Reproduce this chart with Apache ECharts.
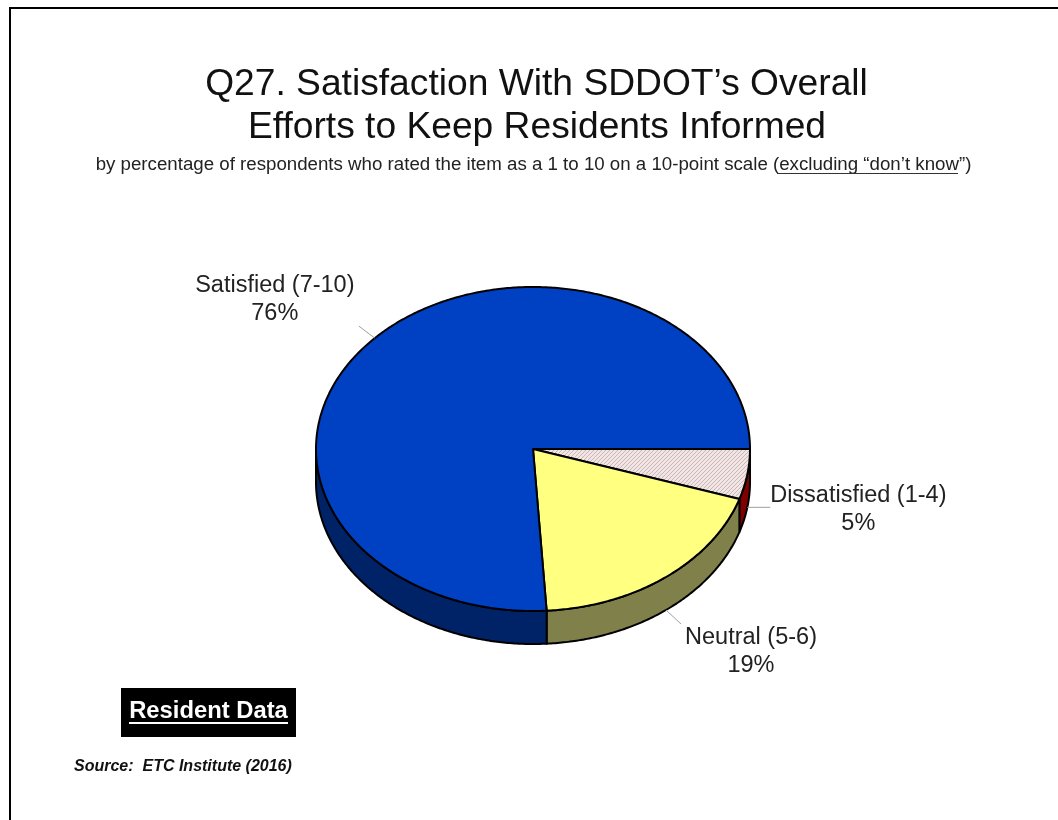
<!DOCTYPE html>
<html>
<head>
<meta charset="utf-8">
<style>html,body{margin:0;padding:0;background:#fff}#c{width:1058px;height:820px}</style>
<script src="https://cdn.jsdelivr.net/npm/echarts@6/dist/echarts.min.js"></script>
</head>
<body>
<div id="c"></div>
<script>
var categories = ['Dissatisfied (1-4)', 'Neutral (5-6)', 'Satisfied (7-10)'];
var values = [5, 19, 76];
var tickLabels = ['5%', '19%', '76%'];

var hatch = document.createElement('canvas');
hatch.width = 4; hatch.height = 4;
(function () {
  var g = hatch.getContext('2d');
  g.fillStyle = '#f1e6e6'; g.fillRect(0, 0, 4, 4);
  g.strokeStyle = '#cfb4b4'; g.lineWidth = 1;
  g.beginPath();
  g.moveTo(-1, 5); g.lineTo(5, -1);
  g.moveTo(-3, 3); g.lineTo(3, -3);
  g.moveTo(1, 7); g.lineTo(7, 1);
  g.stroke();
})();

var topFill = [{ image: hatch, repeat: 'repeat' }, '#ffff80', '#0041c4'];
var sideFill = ['#800000', '#80804a', '#002266'];
var labelOffset = [[23, 0, 111, -26], [15, 14, 85, 14], [-16, -12, -100, -67]];
var depth = 33;
var total = values.reduce(function (a, b) { return a + b; }, 0);
var starts = values.map(function (v, i) {
  return values.slice(0, i).reduce(function (a, b) { return a + b; }, 0);
});
var sliceData = values.map(function (v, i) { return [starts[i], v, i]; });

function angleOf(share) { return share / total * Math.PI * 2; }
function arcPoints(api, a0, a1, dy) {
  var pts = [], steps = Math.max(2, Math.ceil((a1 - a0) / 0.01));
  for (var k = 0; k <= steps; k++) {
    var a = a0 + (a1 - a0) * k / steps;
    var p = api.coord([Math.cos(a), -Math.sin(a)]);
    pts.push([p[0], p[1] + dy]);
  }
  return pts;
}
var edge = { stroke: '#000', lineWidth: 2, lineJoin: 'round' };

function sideItem(params, api) {
  var a0 = angleOf(api.value(0)), a1 = angleOf(api.value(0) + api.value(1));
  var e = Math.min(a1, Math.PI);
  if (a0 >= e) return { type: 'group', children: [] };
  var front = arcPoints(api, a0, e, 0);
  var back = arcPoints(api, a0, e, depth).reverse();
  return {
    type: 'polygon',
    shape: { points: front.concat(back) },
    style: Object.assign({ fill: sideFill[api.value(2)] }, edge)
  };
}
function topItem(params, api) {
  var a0 = angleOf(api.value(0)), a1 = angleOf(api.value(0) + api.value(1));
  var c = api.coord([0, 0]);
  return {
    type: 'polygon',
    shape: { points: [c].concat(arcPoints(api, a0, a1, 0)) },
    style: Object.assign({ fill: topFill[api.value(2)] }, edge)
  };
}
function labelItem(params, api) {
  var i = api.value(2);
  var mid = angleOf(api.value(0) + api.value(1) / 2);
  var p = api.coord([Math.cos(mid), -Math.sin(mid)]);
  var dy = Math.sin(mid) > 0 ? depth : 0;
  var x0 = p[0], y0 = p[1] + dy, o = labelOffset[i];
  return {
    type: 'group',
    children: [
      { type: 'line', shape: { x1: x0, y1: y0, x2: x0 + o[0], y2: y0 + o[1] },
        style: { stroke: '#a0a0a0', lineWidth: 1 } },
      { type: 'text', x: x0 + o[2], y: y0 + o[3],
        style: { text: categories[i] + '\n' + tickLabels[i], fill: '#222',
          font: '23.5px "Liberation Sans", Arial, sans-serif', lineHeight: 28,
          align: 'center', verticalAlign: 'top' } }
    ]
  };
}

var F = '"Liberation Sans", Arial, sans-serif';
var chart = echarts.init(document.getElementById('c'), null, { renderer: 'canvas' });
chart.setOption({
  animation: false,
  backgroundColor: '#fff',
  grid: { left: 316, right: 308, top: 287, height: 324 },
  xAxis: { type: 'value', min: -1, max: 1, show: false },
  yAxis: { type: 'value', min: -1, max: 1, show: false },
  graphic: [
    { type: 'line', shape: { x1: 9, y1: 8, x2: 1058, y2: 8 }, silent: true, style: { stroke: '#000', lineWidth: 2 } },
    { type: 'line', shape: { x1: 10, y1: 7, x2: 10, y2: 820 }, silent: true, style: { stroke: '#000', lineWidth: 2 } },
    { type: 'text', x: 536.5, y: 85, style: { text: 'Q27. Satisfaction With SDDOT\u2019s Overall', font: '37.2px ' + F, fill: '#111', align: 'center', verticalAlign: 'middle' } },
    { type: 'text', x: 537, y: 128, style: { text: 'Efforts to Keep Residents Informed', font: '37.2px ' + F, fill: '#111', align: 'center', verticalAlign: 'middle' } },
    { type: 'text', x: 533.5, y: 165, style: { text: 'by percentage of respondents who rated the item as a 1 to 10 on a 10-point scale (excluding \u201cdon\u2019t know\u201d)', font: '18.7px ' + F, fill: '#222', align: 'center', verticalAlign: 'middle' } },
    { type: 'line', shape: { x1: 777, y1: 173.5, x2: 958, y2: 173.5 }, style: { stroke: '#333', lineWidth: 1 } },
    { type: 'rect', shape: { x: 121, y: 688, width: 175, height: 49 }, style: { fill: '#000' } },
    { type: 'text', x: 208.5, y: 711, style: { text: 'Resident Data', font: 'bold 23.8px ' + F, fill: '#fff', align: 'center', verticalAlign: 'middle' } },
    { type: 'line', shape: { x1: 129, y1: 723, x2: 288, y2: 723 }, style: { stroke: '#fff', lineWidth: 2 } },
    { type: 'text', x: 74, y: 767, style: { text: 'Source:  ETC Institute (2016)', font: 'italic bold 16px ' + F, fill: '#111', align: 'left', verticalAlign: 'middle' } }
  ],
  series: [
    { type: 'custom', coordinateSystem: 'cartesian2d', data: sliceData, renderItem: sideItem, z: 2, silent: true, encode: { x: 0, y: 1 }, clip: false },
    { type: 'custom', coordinateSystem: 'cartesian2d', data: sliceData, renderItem: topItem, z: 3, silent: true, encode: { x: 0, y: 1 }, clip: false },
    { type: 'custom', coordinateSystem: 'cartesian2d', data: sliceData, renderItem: labelItem, z: 4, silent: true, encode: { x: 0, y: 1 }, clip: false }
  ]
});
</script>
</body>
</html>
